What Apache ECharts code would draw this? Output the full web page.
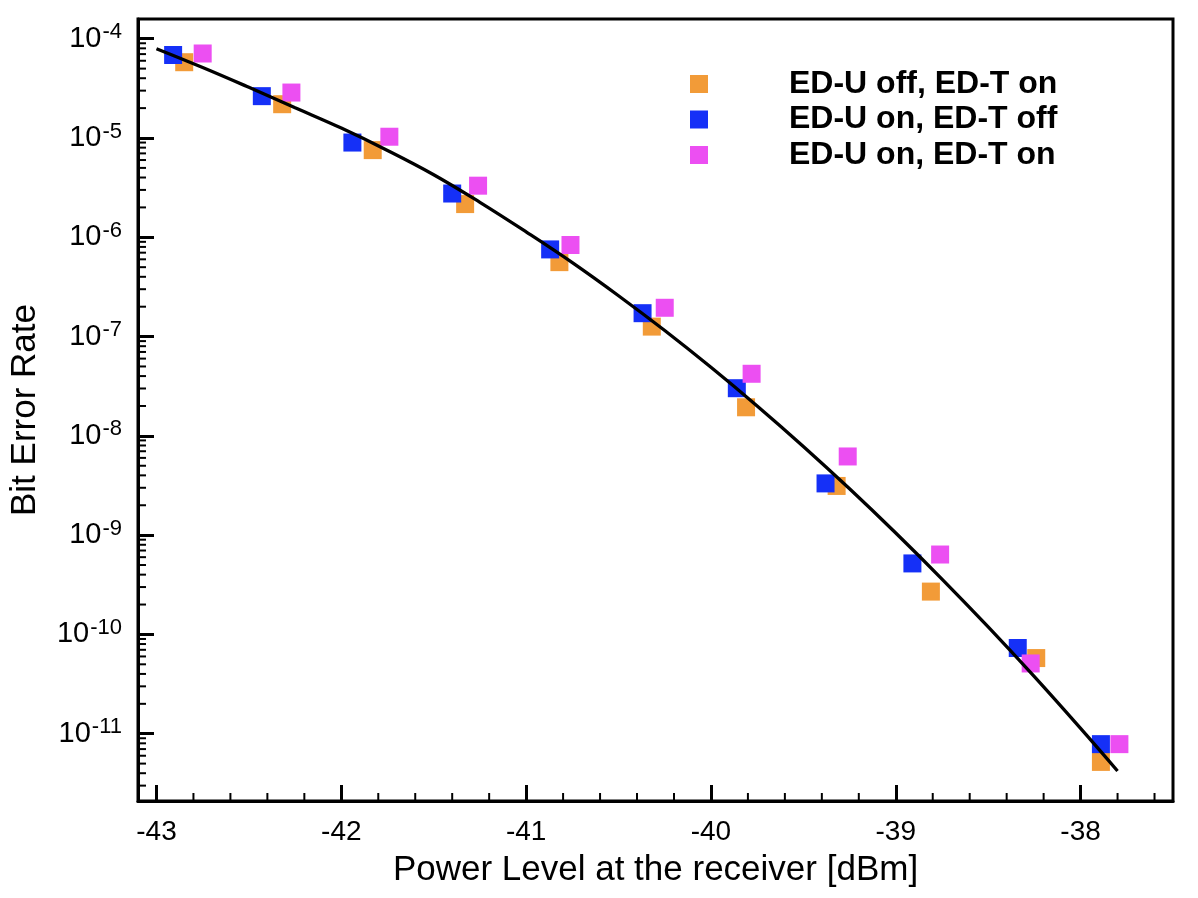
<!DOCTYPE html>
<html><head><meta charset="utf-8">
<script src="https://cdn.jsdelivr.net/npm/echarts@6/dist/echarts.min.js"></script>
<style>html,body{margin:0;padding:0;background:#fff}#c{width:1198px;height:898px}</style>
</head><body><div id="c"></div><script>
const seriesNames = ['ED-U off, ED-T on', 'ED-U on, ED-T off', 'ED-U on, ED-T on'];
const seriesColors = ['#F29B38', '#1530F7', '#EC4FF2'];
const orangeX = [-42.85, -42.32, -41.83, -41.33, -40.82, -40.32, -39.81, -39.32, -38.81, -38.24, -37.89];
const orangeY = [5.8e-5, 2.19e-5, 7.55e-6, 2.16e-6, 5.62e-7, 1.26e-7, 1.94e-8, 3.13e-9, 2.70e-10, 5.78e-11, 5.2e-12];
const blueX = [-42.91, -42.43, -41.94, -41.40, -40.87, -40.37, -39.86, -39.38, -38.91, -38.34, -37.89];
const blueY = [6.86e-5, 2.64e-5, 9.0e-6, 2.76e-6, 7.55e-7, 1.72e-7, 3.02e-8, 3.32e-9, 5.19e-10, 7.3e-11, 7.85e-12];
const magentaX = [-42.75, -42.27, -41.74, -41.26, -40.76, -40.25, -39.78, -39.26, -38.76, -38.27, -37.79];
const magentaY = [7.1e-5, 2.87e-5, 1.03e-5, 3.31e-6, 8.36e-7, 1.95e-7, 4.22e-8, 6.2e-9, 6.38e-10, 5.1e-11, 7.85e-12];
const fitX = [-43, -42.75, -42.5, -42.25, -42, -41.75, -41.5, -41.25, -41, -40.75, -40.5, -40.25,
  -40, -39.75, -39.5, -39.25, -39, -38.75, -38.5, -38.25, -38, -37.8];
const fitY = [7.94e-5, 5.13e-5, 3.24e-5, 2.02e-5, 1.26e-5, 7.50e-6, 4.27e-6, 2.25e-6, 1.135e-6, 5.56e-7, 2.58e-7, 1.15e-7,
  4.90e-8, 2.00e-8, 7.82e-9, 2.93e-9, 1.05e-9, 3.61e-10, 1.19e-10, 3.75e-11, 1.13e-11, 4.21e-12];
const xMin = -43.1, xMax = -37.5;
const yMin = 2.1e-12, yMax = 1.58e-4;
const xMinorTicks = [-42.8, -42.6, -42.4, -42.2, -41.8, -41.6, -41.4, -41.2, -40.8, -40.6, -40.4, -40.2,
  -39.8, -39.6, -39.4, -39.2, -38.8, -38.6, -38.4, -38.2, -37.8, -37.6];
const yMinorMultipliers = [2, 3, 4, 5, 6, 7, 8, 9];
const yDecades = [-12, -11, -10, -9, -8, -7, -6, -5, -4];
const yMinorTicks = [];
yDecades.forEach(d => yMinorMultipliers.forEach(m => {
  const v = m * Math.pow(10, d);
  if (v > yMin && v < yMax) yMinorTicks.push(v);
}));

const FONT = '"Liberation Sans", Arial, Helvetica, sans-serif';
const zip = (xs, ys) => xs.map((x, i) => [x, ys[i]]);
const chart = echarts.init(document.getElementById('c'));
const scatter = (name, color, xs, ys) => ({
  name, type: 'scatter', data: zip(xs, ys), symbol: 'rect', symbolSize: 18,
  itemStyle: { color, opacity: 1 }, emphasis: { disabled: true }
});
chart.setOption({
  animation: false,
  backgroundColor: '#fff',
  textStyle: { fontFamily: FONT },
  grid: { left: 134, right: 25, top: 19, bottom: 97, show: true, borderColor: '#000', borderWidth: 3, containLabel: false },
  legend: {
    data: seriesNames, orient: 'vertical', left: 685, top: 63, itemWidth: 18, itemHeight: 18, itemGap: 3.5,
    icon: 'rect', selectedMode: false,
    textStyle: { fontSize: 32, fontWeight: 'bold', color: '#000', fontFamily: FONT, padding: [0, 0, 0, 76] }
  },
  xAxis: {
    type: 'value', min: xMin, max: xMax, splitNumber: 5,
    name: 'Power Level at the receiver [dBm]', nameLocation: 'middle', nameGap: 52,
    nameTextStyle: { fontSize: 35, color: '#000', fontFamily: FONT },
    axisLine: { show: true, lineStyle: { color: '#000', width: 3 } },
    axisTick: { show: true, inside: true, length: 16, lineStyle: { color: '#000', width: 3 } },
    minorTick: { show: false },
    splitLine: { show: false },
    axisLabel: {
      show: true, margin: 17, fontSize: 28, color: '#000', fontFamily: FONT,
      showMinLabel: false, showMaxLabel: false,
      formatter: v => Math.abs(v - Math.round(v)) < 1e-6 ? String(Math.round(v)) : ''
    }
  },
  yAxis: {
    type: 'log', logBase: 10, min: yMin, max: yMax, splitNumber: 8,
    name: 'Bit Error Rate', nameLocation: 'middle', nameGap: 95, nameRotate: 90,
    nameTextStyle: { fontSize: 35, color: '#000', fontFamily: FONT },
    axisLine: { show: true, lineStyle: { color: '#000', width: 3 } },
    axisTick: { show: true, inside: true, length: 16, lineStyle: { color: '#000', width: 3 } },
    minorTick: { show: false },
    splitLine: { show: false },
    axisLabel: {
      show: true, margin: 16, color: '#000', fontFamily: FONT,
      showMinLabel: false, showMaxLabel: false,
      formatter: v => {
        const e = Math.log10(v); const r = Math.round(e);
        if (Math.abs(e - r) > 1e-6) return '';
        return '{a|10}{b|' + r + '}';
      },
      rich: {
        a: { fontSize: 29, lineHeight: 29, color: '#000', fontFamily: FONT, verticalAlign: 'bottom', padding: [12, 0, 0, 0] },
        b: { fontSize: 22, lineHeight: 22, color: '#000', fontFamily: FONT, verticalAlign: 'bottom', padding: [0, 0, 10, 1] }
      }
    }
  },
  series: [
    scatter(seriesNames[0], seriesColors[0], orangeX, orangeY),
    scatter(seriesNames[1], seriesColors[1], blueX, blueY),
    scatter(seriesNames[2], seriesColors[2], magentaX, magentaY),
    {
      name: 'fit', type: 'line', data: zip(fitX, fitY), smooth: 0.4, symbol: 'none',
      lineStyle: { color: '#000', width: 3.3 }, emphasis: { disabled: true }, z: 5
    },
    {
      name: 'xMinor', type: 'custom', coordinateSystem: 'cartesian2d', silent: true, clip: false, z: 6,
      data: xMinorTicks.map(v => [v, yMin]),
      renderItem: (params, api) => {
        const p = api.coord([api.value(0), api.value(1)]);
        return { type: 'line', shape: { x1: p[0], y1: p[1], x2: p[0], y2: p[1] - 8 }, style: { stroke: '#000', lineWidth: 2 } };
      }
    },
    {
      name: 'yMinor', type: 'custom', coordinateSystem: 'cartesian2d', silent: true, clip: false, z: 6,
      data: yMinorTicks.map(v => [xMin, v]),
      renderItem: (params, api) => {
        const p = api.coord([api.value(0), api.value(1)]);
        return { type: 'line', shape: { x1: p[0], y1: p[1], x2: p[0] + 8, y2: p[1] }, style: { stroke: '#000', lineWidth: 2 } };
      }
    }
  ]
});
</script></body></html>
